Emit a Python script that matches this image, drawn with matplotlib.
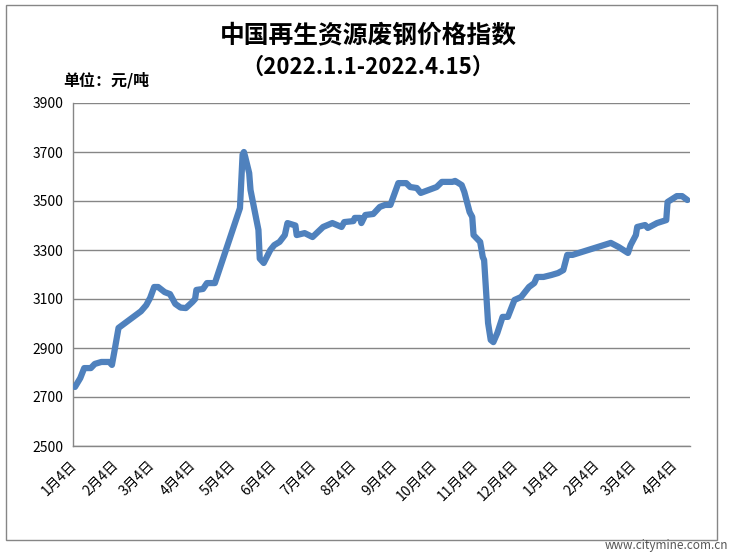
import matplotlib
matplotlib.use("Agg")
import matplotlib.pyplot as plt
import matplotlib.dates as mdates
from matplotlib.patches import Rectangle
from matplotlib.ticker import FuncFormatter
import pandas as pd

plt.rcParams['font.family'] = ['Noto Sans CJK SC', 'DejaVu Sans']

# --- Data ---
TITLE = "中国再生资源废钢价格指数"
SUBTITLE = "（2022.1.1-2022.4.15）"
UNIT = "单位：元/吨"

dates = [
    "2021-01-04", "2021-01-08", "2021-01-11", "2021-01-16", "2021-01-19", "2021-01-24",
    "2021-01-30", "2021-02-01", "2021-02-03", "2021-02-06", "2021-02-23", "2021-02-27",
    "2021-03-02", "2021-03-05", "2021-03-08", "2021-03-13", "2021-03-17", "2021-03-21",
    "2021-03-25", "2021-03-29", "2021-04-03", "2021-04-05", "2021-04-06", "2021-04-11",
    "2021-04-14", "2021-04-20", "2021-05-09", "2021-05-11", "2021-05-12", "2021-05-13",
    "2021-05-16", "2021-05-17", "2021-05-23", "2021-05-24", "2021-05-27", "2021-06-01",
    "2021-06-04", "2021-06-08", "2021-06-12", "2021-06-14", "2021-06-17", "2021-06-20",
    "2021-06-21", "2021-06-27", "2021-07-03", "2021-07-11", "2021-07-18", "2021-07-25",
    "2021-07-27", "2021-08-03", "2021-08-04", "2021-08-08", "2021-08-09", "2021-08-12",
    "2021-08-18", "2021-08-23", "2021-08-27", "2021-08-31", "2021-09-06", "2021-09-12",
    "2021-09-15", "2021-09-20", "2021-09-23", "2021-10-05", "2021-10-09", "2021-10-17",
    "2021-10-19", "2021-10-24", "2021-10-26", "2021-10-30", "2021-11-01", "2021-11-02",
    "2021-11-07", "2021-11-09", "2021-11-10", "2021-11-13", "2021-11-15", "2021-11-17",
    "2021-11-20", "2021-11-24", "2021-11-28", "2021-12-03", "2021-12-08", "2021-12-14",
    "2021-12-18", "2021-12-20", "2021-12-25", "2021-12-31", "2022-01-05", "2022-01-09",
    "2022-01-12", "2022-01-16", "2022-02-14", "2022-02-20", "2022-02-27", "2022-03-01",
    "2022-03-05", "2022-03-06", "2022-03-12", "2022-03-14", "2022-03-21", "2022-03-28",
    "2022-03-29", "2022-04-05", "2022-04-09", "2022-04-13",
]
values = [
    2741, 2777, 2818, 2818, 2835, 2843,
    2843, 2831, 2890, 2982, 3050, 3075,
    3105, 3149, 3149, 3128, 3120, 3080,
    3065, 3063, 3088, 3100, 3137, 3141,
    3165, 3165, 3471, 3690, 3700, 3680,
    3614, 3545, 3382, 3265, 3247, 3300,
    3320, 3333, 3361, 3410, 3405, 3400,
    3361, 3369, 3353, 3394, 3410, 3394,
    3414, 3418, 3431, 3431, 3410, 3443,
    3447, 3476, 3484, 3484, 3573, 3573,
    3557, 3553, 3533, 3557, 3578, 3578,
    3582, 3565, 3537, 3455, 3435, 3361,
    3333, 3271, 3259, 3002, 2933, 2924,
    2961, 3027, 3027, 3096, 3108, 3149,
    3165, 3190, 3190, 3198, 3206, 3218,
    3280, 3280, 3329, 3312, 3288, 3320,
    3361, 3394, 3402, 3390, 3410, 3422,
    3496, 3520, 3520, 3504,
]

y_ticks = [2500, 2700, 2900, 3100, 3300, 3500, 3700, 3900]


def month_day_label(x, pos):
    d = mdates.num2date(x)
    return f"{d.month}月{d.day}日"


def main():
    fig = plt.figure(figsize=(7.32, 5.54), dpi=100)
    ax = fig.add_axes([73 / 732, 1 - 446 / 554, 617 / 732, 343 / 554])

    x = pd.to_datetime(dates)
    ax.plot(x, values, color='#4F81BD', linewidth=4.5,
            solid_joinstyle='round', solid_capstyle='round', zorder=3)

    # y axis
    ax.set_ylim(y_ticks[0], y_ticks[-1])
    ax.set_yticks(y_ticks)
    ax.yaxis.grid(True, color='#868686', linewidth=1.0)
    ax.set_axisbelow(True)

    # x axis: one tick on the 4th of each month
    ax.set_xlim(pd.Timestamp("2021-01-02 12:00"), pd.Timestamp("2022-04-15"))
    ax.xaxis.set_major_locator(mdates.MonthLocator(bymonthday=4))
    ax.xaxis.set_major_formatter(FuncFormatter(month_day_label))

    ax.tick_params(axis='both', length=0, labelsize=10, colors='black')
    ax.tick_params(axis='y', pad=7)
    ax.tick_params(axis='x', pad=12)
    for lbl in ax.get_xticklabels():
        lbl.set_rotation(45)
        lbl.set_rotation_mode('anchor')
        lbl.set_ha('right')
        lbl.set_va('center')

    for side in ['top', 'right']:
        ax.spines[side].set_visible(False)
    for side in ['left', 'bottom']:
        ax.spines[side].set_color('#868686')
        ax.spines[side].set_linewidth(1.0)

    # titles
    fig.text(368 / 732, 1 - 35 / 554, TITLE, ha='center', va='center',
             fontsize=17.8, fontweight='bold')
    fig.text(368 / 732, 1 - 67 / 554, SUBTITLE, ha='center', va='center',
             fontsize=16, fontweight='bold')
    fig.text(63 / 732, 1 - 80 / 554, UNIT, ha='left', va='center',
             fontsize=11.5, fontweight='bold')

    # chart border and watermark
    fig.patches.append(Rectangle((6 / 732, 1 - 540 / 554), 711 / 732, 535 / 554,
                                 transform=fig.transFigure, fill=False,
                                 edgecolor='#868686', linewidth=1.0))
    fig.text(728 / 732, 1 - 545 / 554, "www.citymine.com.cn", ha='right',
             va='center', fontsize=8.5, color='#555555')

    fig.savefig("out.png", dpi=100)


if __name__ == "__main__":
    main()
